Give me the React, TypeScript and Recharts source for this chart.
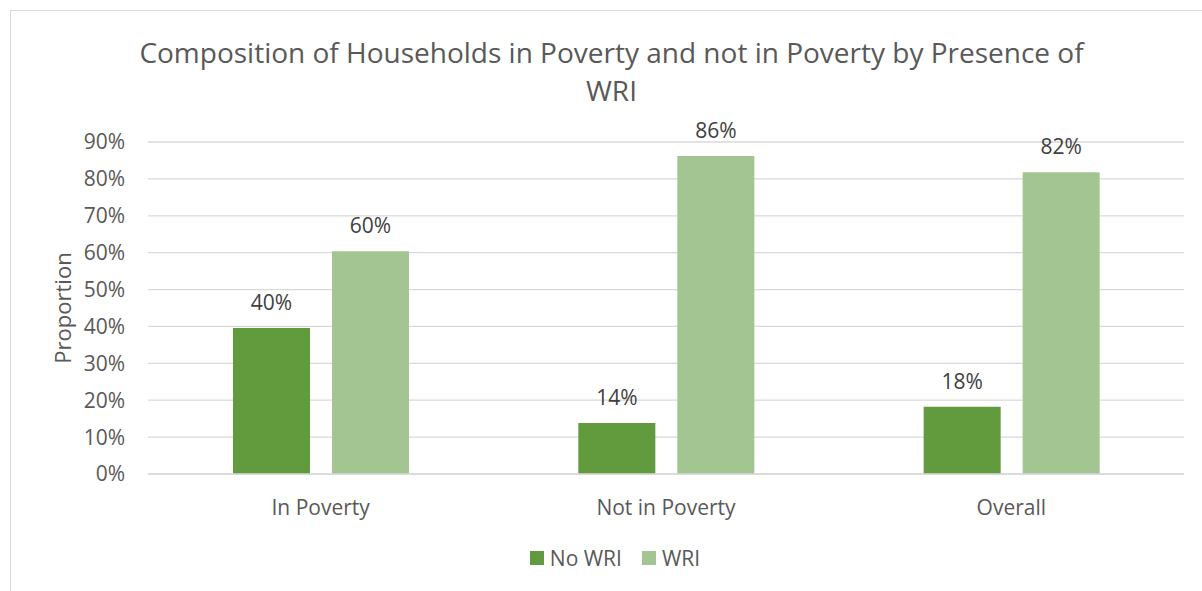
import { BarChart, Bar, XAxis, YAxis, CartesianGrid, Legend, LabelList } from "recharts";

const categories = ["In Poverty", "Not in Poverty", "Overall"];
const noWri = [39.6, 13.8, 18.2];
const wri = [60.4, 86.2, 81.8];
const yTicks = [0, 10, 20, 30, 40, 50, 60, 70, 80, 90];

const DARK = "#629a3e";
const LIGHT = "#a3c592";
const AXIS_TEXT = "#595959";
const LABEL_TEXT = "#404040";
const FONT = "'Open Sans', sans-serif";

const data = categories.map((c, i) => ({ name: c, noWri: noWri[i], wri: wri[i] }));

const LegendContent = ({ payload }: any) => (
  <div style={{ display: "flex", justifyContent: "center", alignItems: "center", gap: 20 }}>
    {(payload || []).map((p: any) => (
      <div key={p.value} style={{ display: "flex", alignItems: "center", gap: 6 }}>
        <span style={{ width: 14, height: 14, background: p.color, display: "inline-block" }} />
        <span style={{ fontSize: 21, color: AXIS_TEXT, lineHeight: "22px" }}>{p.value}</span>
      </div>
    ))}
  </div>
);

const YLabel = ({ viewBox }: any) => {
  const cy = viewBox.y + viewBox.height / 2;
  const x = 51;
  return (
    <text
      x={x}
      y={cy}
      transform={`rotate(-90, ${x}, ${cy})`}
      textAnchor="middle"
      dominantBaseline="central"
      fill={AXIS_TEXT}
      fontSize={22}
      fontFamily={FONT}
    >
      Proportion
    </text>
  );
};

export default function App() {
  return (
    <div
      style={{
        position: "absolute",
        left: 10,
        top: 10,
        width: 1192,
        height: 581,
        boxSizing: "border-box",
        borderLeft: "1px solid #d9d9d9",
        borderTop: "1px solid #d9d9d9",
        fontFamily: FONT,
        background: "#fff",
      }}
    >
      <div
        style={{
          position: "absolute",
          left: 0,
          top: 22,
          width: 1201,
          textAlign: "center",
          fontSize: 28,
          lineHeight: "38px",
          color: AXIS_TEXT,
        }}
      >
        Composition of Households in Poverty and not in Poverty by Presence of
        <br />
        WRI
      </div>
      <BarChart
        width={1191}
        height={580}
        data={data}
        margin={{ top: 131, right: 18, bottom: 87, left: 27 }}
        barGap={22}
      >
        <CartesianGrid vertical={false} stroke="#d9d9d9" strokeWidth={1.3} />
        <XAxis
          dataKey="name"
          axisLine={{ stroke: "#d9d9d9", strokeWidth: 1.3 }}
          tickLine={false}
          tickSize={0}
          tickMargin={26}
          tick={{ fill: AXIS_TEXT, fontSize: 21, fontFamily: FONT }}
        />
        <YAxis
          width={110}
          domain={[0, 90]}
          ticks={yTicks}
          interval={0}
          axisLine={false}
          tickLine={false}
          tickSize={0}
          tickMargin={23}
          tickFormatter={(v: number) => `${v}%`}
          tick={{ fill: AXIS_TEXT, fontSize: 21, fontFamily: FONT }}
          label={<YLabel />}
        />
        <Legend
          verticalAlign="middle"
          layout="horizontal"
          content={<LegendContent />}
          wrapperStyle={{ top: 536, left: 14, width: 1180 }}
        />
        <Bar dataKey="noWri" name="No WRI" fill={DARK} barSize={77} isAnimationActive={false}>
          <LabelList
            dataKey="noWri"
            position="top"
            offset={18}
            formatter={(v: any) => `${Math.round(v)}%`}
            style={{ fill: LABEL_TEXT, fontSize: 21, fontFamily: FONT }}
          />
        </Bar>
        <Bar dataKey="wri" name="WRI" fill={LIGHT} barSize={77} isAnimationActive={false}>
          <LabelList
            dataKey="wri"
            position="top"
            offset={18}
            formatter={(v: any) => `${Math.round(v)}%`}
            style={{ fill: LABEL_TEXT, fontSize: 21, fontFamily: FONT }}
          />
        </Bar>
      </BarChart>
    </div>
  );
}
